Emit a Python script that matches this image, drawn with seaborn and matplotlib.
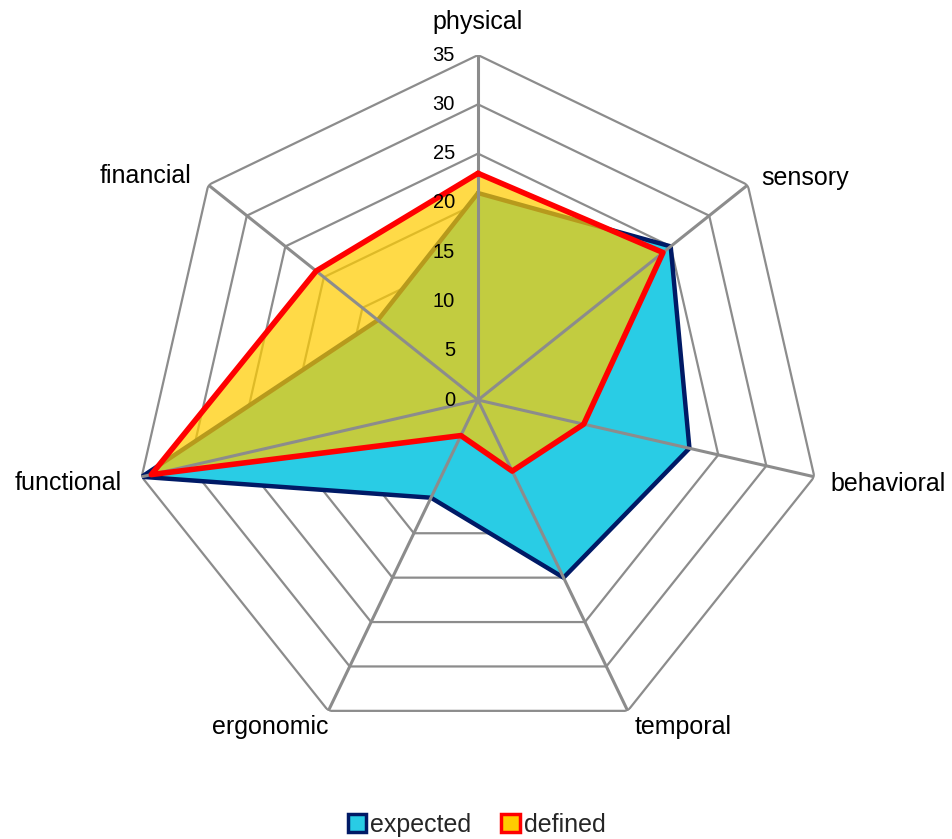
import numpy as np
import pandas as pd
import matplotlib
matplotlib.use("Agg")
import matplotlib.pyplot as plt
from matplotlib.patches import Patch
import seaborn as sns

# Radar data: seven requirement dimensions, clockwise from the top
categories = ["physical", "sensory", "behavioral", "temporal",
              "ergonomic", "functional", "financial"]
expected = [21, 25, 22, 20, 11, 35, 13]
defined = [23, 24, 11, 8, 4, 34, 21]
ring_values = [0, 5, 10, 15, 20, 25, 30, 35]

# Label offsets (pixels) from each outer vertex
label_offsets = [(0, 33), (57, 7), (74, -7), (55, -16),
                 (-58, -16), (-74, -6), (-63, 9)]

sns.set_theme(style="white")
plt.rcParams["font.family"] = ["Liberation Sans", "DejaVu Sans"]

CYAN = "#29CCE5"
NAVY = "#001A66"
YELLOW = "#FFCC00"
RED = "#FF0000"
GRID = "#8C8C8C"

n = len(categories)
theta = np.linspace(0, 2 * np.pi, n, endpoint=False)
theta_closed = np.append(theta, theta[0])

fig = plt.figure(figsize=(9.53, 8.39), dpi=100)
ax = fig.add_axes([0.1396, 0.1120, 0.724, 0.8224], projection="polar")
ax.set_theta_offset(np.pi / 2)
ax.set_theta_direction(-1)
ax.set_ylim(0, ring_values[-1])
ax.grid(False)
ax.spines["polar"].set_visible(False)
ax.set_xticks([])
ax.set_yticks([])
ax.patch.set_alpha(0)

# Heptagonal grid rings
for v in ring_values[1:]:
    ax.plot(theta_closed, [v] * (n + 1), color=GRID, lw=1.6, zorder=1)

# Series data in long form
def closed(vals):
    return list(vals) + [vals[0]]

df = pd.concat([
    pd.DataFrame({"theta": theta_closed, "value": closed(expected),
                  "series": "expected", "order": range(n + 1)}),
    pd.DataFrame({"theta": theta_closed, "value": closed(defined),
                  "series": "defined", "order": range(n + 1)}),
])

exp_df = df[df.series == "expected"]
def_df = df[df.series == "defined"]

ax.fill(exp_df.theta, exp_df.value, color=CYAN, zorder=2, lw=0)
sns.lineplot(data=exp_df, x="theta", y="value", sort=False, estimator=None,
             color=NAVY, lw=3.2, ax=ax, zorder=3)
ax.fill(def_df.theta, def_df.value, color=YELLOW, alpha=0.72, zorder=4, lw=0)

# Spokes drawn over the fills
for t in theta:
    ax.plot([t, t], [0, ring_values[-1]], color=GRID, lw=2.2, zorder=5)

sns.lineplot(data=def_df, x="theta", y="value", sort=False, estimator=None,
             color=RED, lw=4, ax=ax, zorder=6)

ax.set_xlabel("")
ax.set_ylabel("")
if ax.get_legend() is not None:
    ax.get_legend().remove()

# Value scale along the physical axis
for v in ring_values:
    ax.annotate(str(v), xy=(0, v), xytext=(-23, 0), textcoords="offset pixels",
                ha="right", va="center", fontsize=14.5, color="black",
                zorder=7, annotation_clip=False)

# Category labels
for t, name, (dx, dy) in zip(theta, categories, label_offsets):
    ax.annotate(name, xy=(t, ring_values[-1]), xytext=(dx, dy),
                textcoords="offset pixels", ha="center", va="center",
                fontsize=18, color="black", annotation_clip=False)

handles = [Patch(facecolor=CYAN, edgecolor=NAVY, lw=2.5, label="expected"),
           Patch(facecolor=YELLOW, edgecolor=RED, lw=2.5, label="defined")]
fig.legend(handles=handles, loc="center", bbox_to_anchor=(0.5, 1 - 825 / 839),
           ncol=2, frameon=False, fontsize=18, handlelength=0.75,
           handleheight=0.75, handletextpad=0.15, columnspacing=1.2)

fig.savefig("out.png", dpi=100)
